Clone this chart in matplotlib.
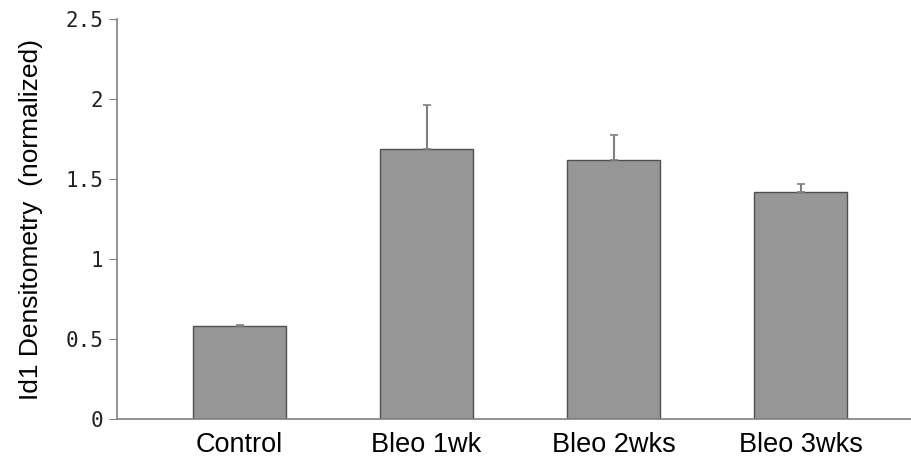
import matplotlib
matplotlib.use("Agg")
import matplotlib.pyplot as plt
import numpy as np

categories = ["Control", "Bleo 1wk", "Bleo 2wks", "Bleo 3wks"]
values = [0.58, 1.69, 1.62, 1.42]
errors = [0.005, 0.27, 0.155, 0.05]
yticks = [0, 0.5, 1, 1.5, 2, 2.5]
ytick_labels = ["0", "0.5", "1", "1.5", "2", "2.5"]

W, H = 911, 463
fig = plt.figure(figsize=(W/100, H/100), dpi=100)
ax = fig.add_axes([117/W, (H-419)/H, (W-117)/W, 400/H])

x = np.arange(len(categories))
ax.bar(x, values, width=0.5, color="#969696", edgecolor="#505050", linewidth=1.0, zorder=2)
ax.errorbar(x, values, yerr=[np.zeros(len(errors)), errors], fmt="none",
            ecolor="#808080", elinewidth=1.5, capsize=3, capthick=1.2, zorder=3)

ax.set_xlim(-0.655, 3.59)
ax.set_ylim(0, 2.5)
ax.set_yticks(yticks)
ax.set_yticklabels(ytick_labels, fontfamily="DejaVu Sans Mono", fontsize=15, color="#222222")
ax.set_xticks(x)
ax.set_xticklabels(categories, fontfamily="Liberation Sans", fontsize=19.5)
ax.tick_params(axis="x", length=0, pad=9)
ax.tick_params(axis="y", length=6, color="#808080", pad=4)
for s in ["top", "right"]:
    ax.spines[s].set_visible(False)
for s in ["left", "bottom"]:
    ax.spines[s].set_color("#808080")
    ax.spines[s].set_linewidth(1.2)
ax.set_ylabel("Id1 Densitometry  (normalized)", fontfamily="Liberation Sans", fontsize=19, labelpad=16)

fig.savefig("out.png", dpi=100)
